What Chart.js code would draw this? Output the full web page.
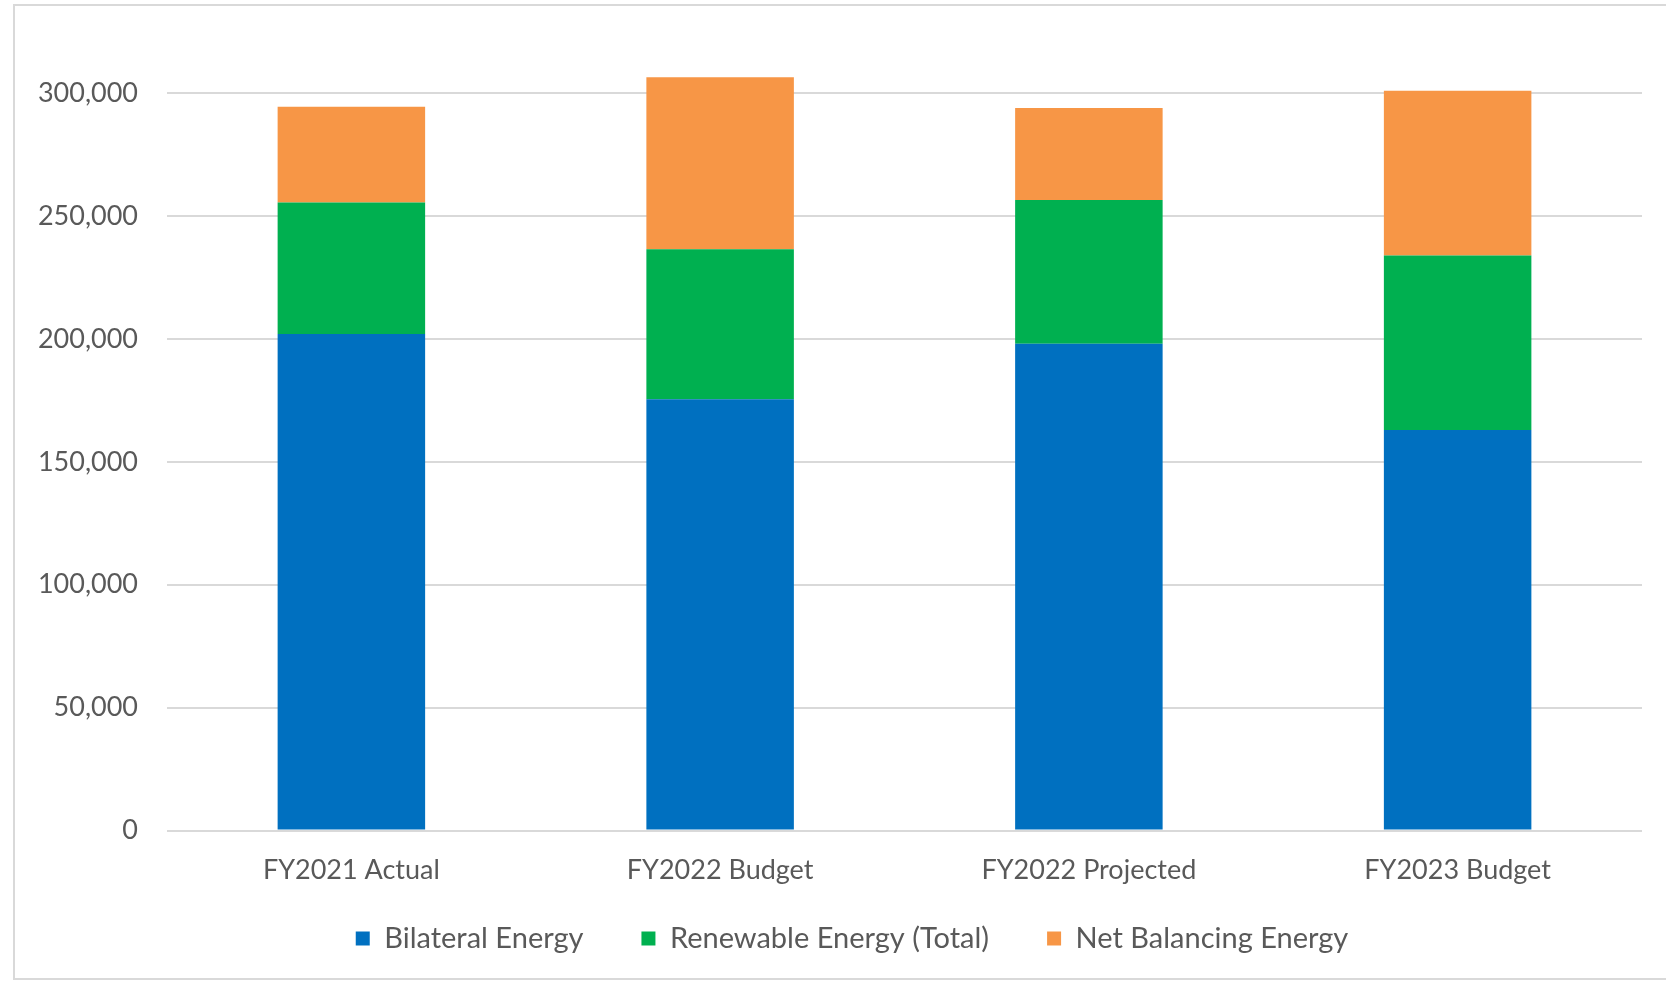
<!DOCTYPE html>
<html>
<head>
<meta charset="utf-8">
<script src="https://cdn.jsdelivr.net/npm/chart.js@4.4.1/dist/chart.umd.min.js"></script>
<style>
  html, body { margin: 0; padding: 0; background: #fff; }
  #wrap { position: relative; width: 1666px; height: 986px; }
  #frame { position: absolute; left: 13px; top: 4px; width: 1680px; height: 976px; border: 2px solid #d9d9d9; box-sizing: border-box; }
  canvas { position: absolute; left: 0; top: 0; }
</style>
</head>
<body>
<div id="wrap">
  <div id="frame"></div>
  <canvas id="energyChart" width="1666" height="986"></canvas>
</div>
<script>
// data
const categories = ['FY2021 Actual', 'FY2022 Budget', 'FY2022 Projected', 'FY2023 Budget'];
const bilateralEnergy = [202000, 175500, 198000, 163000];
const renewableEnergy = [53500, 61000, 58500, 71000];
const netBalancingEnergy = [39000, 70000, 37500, 67000];
const yTicks = [0, 50000, 100000, 150000, 200000, 250000, 300000];

const txt = '#595959';
Chart.defaults.font.family = 'Lato, "Open Sans", sans-serif';
Chart.defaults.color = txt;

// legend padding is wide sideways, so pull the legend row back up a bit
// (bottom stays open so the clip doesn't cut the text)
const legendNudge = {
    id: 'legendNudge',
    afterLayout(chart) {
        const lg = chart.legend;
        lg.top -= 35;
        lg.bottom = chart.height;
        lg.left += 21; lg.right += 21;
    }
};

new Chart(document.getElementById('energyChart'), {
    type: 'bar',
    data: {
        labels: categories,
        datasets: [
            { label: 'Bilateral Energy', data: bilateralEnergy, backgroundColor: '#0070C0' },
            { label: 'Renewable Energy (Total)', data: renewableEnergy, backgroundColor: '#00B050' },
            { label: 'Net Balancing Energy', data: netBalancingEnergy, backgroundColor: '#F79646' }
        ]
    },
    options: {
        responsive: false,
        animation: false,
        datasets: { bar: { categoryPercentage: 1, barPercentage: 0.4, borderWidth: 0 } },
        layout: { padding: { left: 20, right: 24, top: 0, bottom: 8 } },
        plugins: {
            tooltip: { enabled: false },
            legend: {
                position: 'bottom',
                maxHeight: 77,
                labels: { boxWidth: 14, boxHeight: 14, padding: 58, font: { size: 29 }, color: txt }
            }
        },
        scales: {
            x: {
                stacked: true,
                grid: { display: false },
                border: { display: false },
                ticks: { padding: 15, font: { size: 27 }, color: txt }
            },
            y: {
                stacked: true,
                min: 0,
                max: 319500,
                border: { display: false },
                grid: { color: '#d9d9d9', lineWidth: 2, drawTicks: false },
                afterBuildTicks: axis => { axis.ticks = yTicks.map(v => ({ value: v })); },
                afterFit: axis => { axis.width = 147; },
                ticks: {
                    padding: 29,
                    font: { size: 27 },
                    color: txt,
                    callback: v => v.toLocaleString('en-US')
                }
            }
        }
    },
    plugins: [legendNudge]
});
</script>
</body>
</html>
